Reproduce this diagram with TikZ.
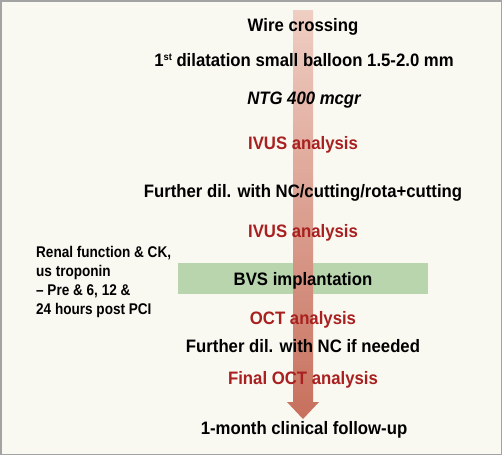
\documentclass[tikz,border=0pt]{standalone}
\usepackage{fontspec}
\setmainfont[FakeStretch=0.93]{Liberation Sans}
\newfontfamily\sidefont[FakeStretch=0.875]{Liberation Sans}
\definecolor{bg}{HTML}{F9F8F1}
\definecolor{frame}{HTML}{A3A3A3}
\definecolor{redtxt}{HTML}{A8201F}
\definecolor{boxgreen}{HTML}{B8D5AE}
\definecolor{arrtop}{HTML}{EFCEC3}
\definecolor{arrbot}{HTML}{C7705D}
\begin{document}
\begin{tikzpicture}[x=1pt,y=-1pt,
  main/.style={font=\fontsize{18}{21}\selectfont\bfseries, anchor=base, inner sep=0pt},
  red/.style={main, text=redtxt},
  side/.style={font=\sidefont\fontsize{15.5}{19}\selectfont\bfseries, anchor=base west, inner sep=0pt}]
\fill[bg, draw=frame, line width=1.5pt] (0.75,0.75) rectangle (501.25,454.25);
\useasboundingbox (0,0) rectangle (502,455);
% green box
\fill[boxgreen] (178,263) rectangle (428,294);
% arrow
\shade[top color=arrtop, bottom color=arrbot]
  (293,10) -- (313,10) -- (313,402) -- (319,402) -- (303,419) -- (287,402) -- (293,402) -- cycle;
% texts
\node[main] (t1) at (303,31) {Wire crossing};
\node[main] (t2) at (304,66) {1\raisebox{6pt}{\fontsize{10}{10}\selectfont st} dilatation small balloon 1.5-2.0 mm};
\node[main, font=\fontsize{18}{21}\selectfont\bfseries\itshape] (t3) at (304,104) {NTG 400 mcgr};
\node[red] (t4) at (303,149) {IVUS analysis};
\node[main] (t5) at (303,197) {Further dil. with NC/cutting/rota+cutting};
\node[red] (t6) at (303,237) {IVUS analysis};
\node[main] (t7) at (303,285) {BVS implantation};
\node[red] (t8) at (303,324) {OCT analysis};
\node[main] (t9) at (303,352) {Further dil. with NC if needed};
\node[red] (t10) at (303,384) {Final OCT analysis};
\node[main] (t11) at (304,434) {1-month clinical follow-up};
\node[side] (s1) at (36,257.5) {Renal function \& CK,};
\node[side] (s2) at (36,276.5) {us troponin};
\node[side] (s3) at (36,295.5) {– Pre \& 6, 12 \&};
\node[side] (s4) at (36,314.5) {24 hours post PCI};
\end{tikzpicture}
\end{document}
